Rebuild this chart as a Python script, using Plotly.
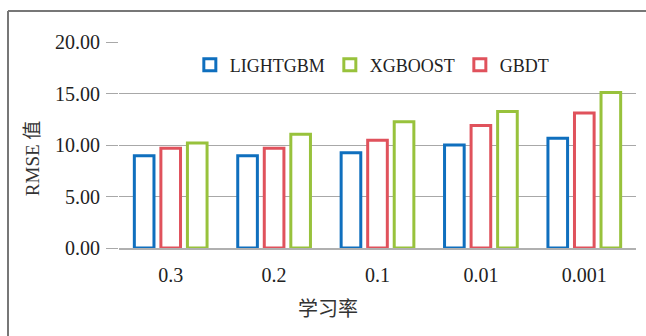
import plotly.graph_objects as go

categories = ["0.3", "0.2", "0.1", "0.01", "0.001"]
lightgbm = [8.95, 8.95, 9.25, 10.0, 10.65]
gbdt = [9.68, 9.68, 10.45, 11.9, 13.1]
xgboost = [10.2, 11.05, 12.25, 13.25, 15.1]
y_ticks = [0, 5, 10, 15, 20]

FONT = "'Liberation Serif', 'Times New Roman', 'Noto Sans CJK SC', serif"
BLUE = "#0F6FBE"
RED = "#E0525C"
GREEN = "#98C23C"

fig = go.Figure()
for name, vals, col, rank in [("LIGHTGBM", lightgbm, BLUE, 1),
                              ("GBDT", gbdt, RED, 3),
                              ("XGBOOST", xgboost, GREEN, 2)]:
    fig.add_trace(go.Bar(
        x=categories, y=vals, name=name, legendrank=rank,
        marker=dict(color="white", line=dict(color=col, width=3)),
    ))

fig.update_layout(
    width=646, height=336, autosize=False,
    margin=dict(l=119, r=10, t=42, b=88),
    paper_bgcolor="white", plot_bgcolor="white",
    font=dict(family=FONT, size=19, color="#222222"),
    barmode="group", bargap=0.23, bargroupgap=0.26,
    showlegend=True,
    legend=dict(orientation="h", x=0.137, xanchor="left", y=0.888, yanchor="middle",
                font=dict(size=18, family=FONT, color="#222222"),
                bgcolor="rgba(0,0,0,0)", traceorder="normal"),
    xaxis=dict(type="category", showgrid=False, showline=True, linecolor="#B0B0B0",
               linewidth=1.5, ticks="", ticklabelstandoff=8,
               tickfont=dict(size=20, family=FONT)),
    yaxis=dict(range=[0, 20], tickvals=y_ticks, tickformat=".2f",
               showgrid=True, gridcolor="#A8A8A8", gridwidth=1.2,
               zeroline=False, showline=False,
               ticks="outside", ticklen=12, tickcolor="#A8A8A8", tickwidth=1.2,
               ticklabelstandoff=2,
               tickfont=dict(size=20, family=FONT)),
    annotations=[
        dict(text="学习率", xref="paper", yref="paper", x=0.404, y=-0.291,
             xanchor="center", yanchor="middle", showarrow=False,
             font=dict(size=20, family="Noto Sans CJK SC", color="#333333")),
        dict(text="RMSE 值", xref="paper", yref="paper", x=-0.166, y=0.437,
             xanchor="center", yanchor="middle", showarrow=False, textangle=-90,
             font=dict(size=19, family=FONT, color="#333333")),
    ],
    shapes=[
        dict(type="line", xref="paper", yref="paper", x0=(8 - 119) / 517, x1=(646 - 119) / 517,
             y0=(248 - 11) / 206, y1=(248 - 11) / 206, line=dict(color="#777777", width=2)),
        dict(type="line", xref="paper", yref="paper", x0=(8 - 119) / 517, x1=(8 - 119) / 517,
             y0=(248 - 11) / 206, y1=(248 - 340) / 206, line=dict(color="#777777", width=2)),
    ],
)

fig.write_html("out.html", config={"displayModeBar": False},
               post_script="document.body.style.margin='0';")
